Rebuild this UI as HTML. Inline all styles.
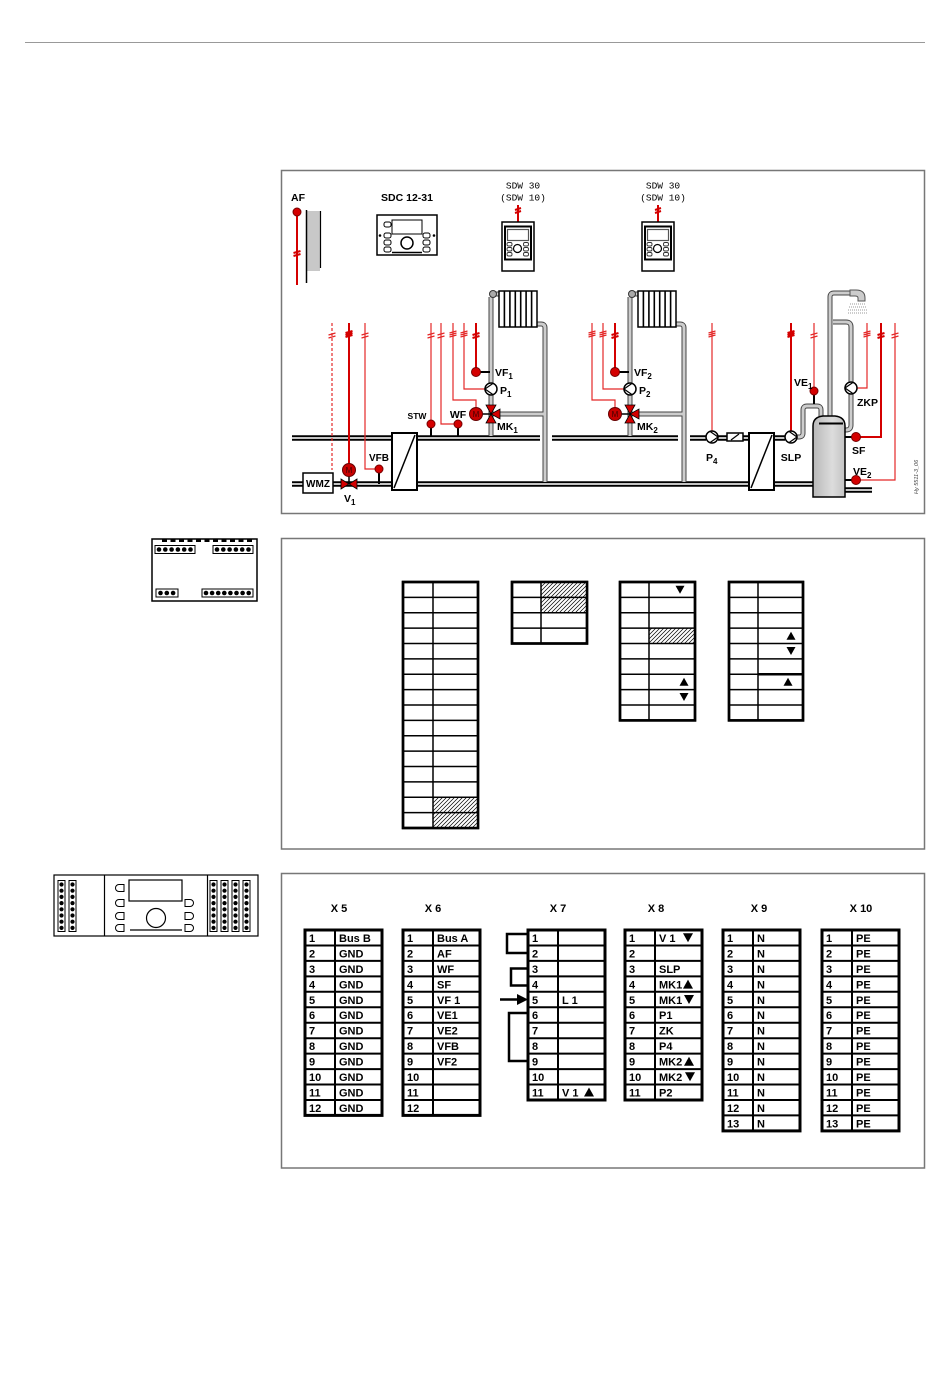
<!DOCTYPE html>
<html><head><meta charset="utf-8"><style>
html,body{margin:0;padding:0;background:#fff;}
svg{display:block}
text{font-family:"Liberation Sans",Arial,sans-serif;fill:#000;}
.b{font-weight:bold;}
.tb{font-weight:bold;font-size:11px;}
.lb{font-weight:bold;font-size:10.5px;}
.mono{font-family:"Liberation Mono","DejaVu Sans Mono",monospace;font-size:9.5px;}
.pb{stroke:#000;stroke-width:5.5;fill:none;}
.pg{stroke:#c4c4c4;stroke-width:2;fill:none;}
.qb{stroke:#444;stroke-width:5;fill:none;}
.qg{stroke:#cdcdcd;stroke-width:3;fill:none;}
.rt{stroke:#d40000;stroke-width:2;fill:none;}
.rn{stroke:#e42828;stroke-width:1.2;fill:none;}
.sen{fill:#d40000;stroke:#700;stroke-width:1;}
.k{stroke:#000;fill:none;}
</style></head><body>
<svg width="950" height="1397" viewBox="0 0 950 1397" xmlns="http://www.w3.org/2000/svg">
<defs>
<pattern id="h" width="4" height="4" patternUnits="userSpaceOnUse">
<rect width="4" height="4" fill="#fff"/>
<path d="M-1,1 L1,-1 M0,4 L4,0 M3,5 L5,3" stroke="#000" stroke-width="0.7"/>
</pattern>
<linearGradient id="tk" x1="0" x2="1" y1="0" y2="0"><stop offset="0" stop-color="#b8b8b8"/><stop offset="0.6" stop-color="#dcdcdc"/><stop offset="1" stop-color="#c4c4c4"/></linearGradient>
</defs>

<!-- top rule -->
<line x1="25" y1="42.5" x2="925" y2="42.5" stroke="#999" stroke-width="1"/>

<!-- panels -->
<rect x="281.5" y="170.5" width="643" height="343" fill="none" stroke="#777" stroke-width="1.5"/>
<rect x="281.5" y="538.5" width="643" height="310.5" fill="none" stroke="#777" stroke-width="1.5"/>
<rect x="281.5" y="873.5" width="643" height="294.5" fill="none" stroke="#777" stroke-width="1.5"/>

<!-- ================= PANEL 1 ================= -->
<!-- AF -->
<text x="291" y="201" class="lb">AF</text>
<rect x="307" y="211" width="13" height="60" fill="#c8c8c8"/>
<line x1="306.5" y1="210" x2="306.5" y2="283" stroke="#000" stroke-width="1.5"/>
<line x1="320.5" y1="211" x2="320.5" y2="268" stroke="#000" stroke-width="1.2"/>
<line x1="297" y1="212" x2="297" y2="285" class="rt"/>
<path d="M293.5,253 l7,-2 m-7,5 l7,-2" class="rt" stroke-width="1"/>
<circle cx="297" cy="212" r="4" class="sen"/>

<!-- SDC 12-31 -->
<text x="407" y="201" class="lb" text-anchor="middle">SDC 12-31</text>
<rect x="377" y="215" width="60" height="40" fill="#fff" stroke="#000" stroke-width="1.5"/>
<rect x="392" y="220" width="30" height="14" fill="#fff" stroke="#000" stroke-width="1"/>
<circle cx="407" cy="243" r="6" fill="#fff" stroke="#000" stroke-width="1.5"/>
<line x1="392" y1="252.5" x2="422" y2="252.5" stroke="#000" stroke-width="1.5"/>
<g fill="#fff" stroke="#000" stroke-width="1">
<rect x="384" y="222" width="7" height="5" rx="2"/>
<rect x="384" y="233" width="7" height="5" rx="2"/>
<rect x="384" y="240" width="7" height="5" rx="2"/>
<rect x="384" y="247" width="7" height="5" rx="2"/>
<rect x="423" y="233" width="7" height="5" rx="2"/>
<rect x="423" y="240" width="7" height="5" rx="2"/>
<rect x="423" y="247" width="7" height="5" rx="2"/>
</g>
<circle cx="380" cy="235.5" r="1.3" fill="#000"/>
<circle cx="434" cy="235.5" r="1.3" fill="#000"/>

<!-- SDW devices -->
<text x="523" y="188.5" class="mono" text-anchor="middle">SDW 30</text>
<text x="523" y="200.5" class="mono" text-anchor="middle">(SDW 10)</text>
<text x="663" y="188.5" class="mono" text-anchor="middle">SDW 30</text>
<text x="663" y="200.5" class="mono" text-anchor="middle">(SDW 10)</text>
<g id="sdw">
<line x1="518" y1="205" x2="518" y2="222" class="rt"/>
<path d="M515,210 l6,-2 m-6,5 l6,-2" class="rt" stroke-width="1"/>
<rect x="502" y="222" width="32" height="49" fill="#fff" stroke="#000" stroke-width="1.5"/>
<rect x="505" y="226.5" width="26" height="33" fill="#fff" stroke="#000" stroke-width="2"/>
<rect x="507.5" y="229.5" width="21" height="11" fill="#fff" stroke="#555" stroke-width="1.2"/>
<circle cx="517.5" cy="248.5" r="4" fill="#fff" stroke="#000" stroke-width="1.2"/>
<g fill="#fff" stroke="#333" stroke-width="0.9">
<rect x="507" y="242.5" width="5" height="3.5" rx="1.5"/>
<rect x="507" y="247.5" width="5" height="3.5" rx="1.5"/>
<rect x="507" y="252.5" width="5" height="3.5" rx="1.5"/>
<rect x="523.5" y="242.5" width="5" height="3.5" rx="1.5"/>
<rect x="523.5" y="247.5" width="5" height="3.5" rx="1.5"/>
<rect x="523.5" y="252.5" width="5" height="3.5" rx="1.5"/>
</g>
</g>
<use href="#sdw" x="140" y="0"/>

<!-- main pipes -->
<path d="M292,438 H392 M417,438 H540 M552,438 H678 M690,438 H706 M718,438 H749 M774,438 H785 M292,484 H392 M417,484 H749 M774,484 H813 M845,490 H872" class="pb"/>
<path d="M292,438 H392 M417,438 H540 M552,438 H678 M690,438 H706 M718,438 H749 M774,438 H785 M292,484 H392 M417,484 H749 M774,484 H813 M845,490 H872" class="pg"/>

<!-- heat exchangers -->
<rect x="392" y="433" width="25" height="57" fill="#fff" stroke="#000" stroke-width="2"/>
<line x1="394" y1="488" x2="415" y2="435" stroke="#000" stroke-width="1.5"/>
<rect x="749" y="433" width="25" height="57" fill="#fff" stroke="#000" stroke-width="2"/>
<line x1="751" y1="488" x2="772" y2="435" stroke="#000" stroke-width="1.5"/>

<!-- primary red lines -->
<line x1="332" y1="323" x2="332" y2="470" class="rn" stroke-width="1.6" stroke-dasharray="3,2"/>
<path d="M328.5,335 l7,-2 m-7,5 l7,-2" class="rn"/>
<line x1="349" y1="323" x2="349" y2="463" class="rt"/>
<path d="M345.5,333 l7,-2 m-7,4 l7,-2 m-7,4 l7,-2" class="rt" stroke-width="1"/>
<path d="M365,323 V469 H375" class="rn"/>
<path d="M361.5,335 l7,-2 m-7,5 l7,-2" class="rn"/>

<!-- WMZ -->
<rect x="303" y="473" width="30" height="20" fill="#fff" stroke="#000" stroke-width="1.5"/>
<text x="318" y="487" class="b" font-size="10" text-anchor="middle">WMZ</text>
<!-- V1 -->
<line x1="349" y1="476" x2="349" y2="484" stroke="#000" stroke-width="1.5"/>
<path d="M341,479 V489 L349,484 Z M357,479 V489 L349,484 Z" fill="#d40000" stroke="#000" stroke-width="0.8"/>
<circle cx="349" cy="470" r="6.5" fill="#c80000" stroke="#600"/>
<text x="349" y="473" font-size="8" text-anchor="middle" style="fill:#400">M</text>
<text x="344" y="502" class="lb">V<tspan font-size="8" dy="3">1</tspan></text>
<!-- VFB -->
<line x1="379" y1="472" x2="379" y2="484" stroke="#000" stroke-width="2"/>
<circle cx="379" cy="469" r="4" class="sen"/>
<text x="379" y="461" class="b" font-size="10" text-anchor="middle">VFB</text>

<!-- STW, WF -->
<line x1="431" y1="323" x2="431" y2="420" class="rn"/>
<path d="M427.5,335 l7,-2 m-7,5 l7,-2" class="rn"/>
<line x1="431" y1="427" x2="431" y2="437" stroke="#000" stroke-width="2"/>
<circle cx="431" cy="424" r="4" class="sen"/>
<text x="417" y="419" class="b" font-size="8.5" text-anchor="middle">STW</text>
<path d="M441,323 V424 H454" class="rn"/>
<path d="M437.5,335 l7,-2 m-7,5 l7,-2" class="rn"/>
<line x1="458" y1="427" x2="458" y2="437" stroke="#000" stroke-width="2"/>
<circle cx="458" cy="424" r="4" class="sen"/>
<text x="458" y="418" class="lb" text-anchor="middle">WF</text>

<!-- heating circuit 1 (reused for circuit 2) -->
<g id="c1">
<path d="M491,436 V297 M493,294 H499 M537,324 H541 Q545,324 545,328 V482 M500,414 H545" class="qb"/>
<path d="M491,436 V297 M493,294 H499 M537,324 H541 Q545,324 545,328 V482 M500,414 H545" class="qg"/>
<circle cx="493" cy="294" r="3.5" fill="#aaa" stroke="#333"/>
<rect x="499" y="291" width="38" height="36" fill="#fff" stroke="#000" stroke-width="1.5"/>
<path d="M504.4,291V327M509.9,291V327M515.3,291V327M520.7,291V327M526.1,291V327M531.6,291V327" stroke="#000" stroke-width="1.6"/>
<path d="M453,323 V400 H476 V407" class="rn" stroke-width="1.6"/>
<path d="M449.5,333 l7,-2 m-7,4 l7,-2 m-7,4 l7,-2" class="rn" stroke-width="1"/>
<path d="M464,323 V389 H485" class="rn"/>
<path d="M460.5,333 l7,-2 m-7,4 l7,-2 m-7,4 l7,-2" class="rn" stroke-width="1"/>
<line x1="476" y1="323" x2="476" y2="368" class="rt"/>
<path d="M472.5,335 l7,-2 m-7,5 l7,-2" class="rt" stroke-width="1"/>
<line x1="480" y1="372" x2="490" y2="372" stroke="#000" stroke-width="2"/>
<circle cx="476" cy="372" r="4.5" class="sen"/>
<circle cx="491" cy="389" r="6" fill="#fff" stroke="#000" stroke-width="1.5"/>
<path d="M493,383.4 L485,389 L493,394.6" fill="none" stroke="#000" stroke-width="1.2"/>
<path d="M486,405 H496 L491,414 Z M486,423 H496 L491,414 Z M500,409 V419 L491,414 Z" fill="#d40000" stroke="#000" stroke-width="0.8"/>
<line x1="482" y1="414" x2="491" y2="414" stroke="#000" stroke-width="1.5"/>
<circle cx="476" cy="414" r="6.5" fill="#c80000" stroke="#600"/>
</g>
<use href="#c1" x="139" y="0"/>
<text x="476" y="417" font-size="8" text-anchor="middle" style="fill:#400">M</text>
<text x="615" y="417" font-size="8" text-anchor="middle" style="fill:#400">M</text>
<text x="495" y="376" class="lb">VF<tspan font-size="8" dy="3">1</tspan></text>
<text x="500" y="394" class="lb">P<tspan font-size="8" dy="3">1</tspan></text>
<text x="497" y="430" class="lb">MK<tspan font-size="8" dy="3">1</tspan></text>
<text x="634" y="376" class="lb">VF<tspan font-size="8" dy="3">2</tspan></text>
<text x="639" y="394" class="lb">P<tspan font-size="8" dy="3">2</tspan></text>
<text x="637" y="430" class="lb">MK<tspan font-size="8" dy="3">2</tspan></text>

<!-- P4 -->
<line x1="712" y1="323" x2="712" y2="431" class="rn"/>
<path d="M708.5,333 l7,-2 m-7,4 l7,-2 m-7,4 l7,-2" class="rn" stroke-width="1"/>
<circle cx="712" cy="437" r="6" fill="#fff" stroke="#000" stroke-width="1.5"/>
<path d="M710,431.4 L718,437 L710,442.6" fill="none" stroke="#000" stroke-width="1.2"/>
<text x="706" y="461" class="lb">P<tspan font-size="8" dy="3">4</tspan></text>
<!-- check valve -->
<rect x="727" y="433" width="16" height="8" fill="#fff" stroke="#000" stroke-width="1.5"/>
<line x1="731" y1="440" x2="739" y2="434" stroke="#000" stroke-width="1.2"/>

<!-- DHW side pipes -->
<path d="M797,437 H799 Q803,437 803,433 V410 Q803,406 807,406 H817 Q821,406 821,410 V419 M830,418 V297 Q830,293 834,293 H852 M833,322 H846 Q851,322 851,327 V425 Q851,430 846,430 H845" class="qb"/>
<path d="M797,437 H799 Q803,437 803,433 V410 Q803,406 807,406 H817 Q821,406 821,410 V419 M830,418 V297 Q830,293 834,293 H852 M833,322 H846 Q851,322 851,327 V425 Q851,430 846,430 H845" class="qg"/>
<!-- shower head -->
<path d="M850,290 H856 Q865,290 865,298 V301 H858 V298 Q858,296 855,296 H850 Z" fill="#ccc" stroke="#555" stroke-width="1"/>
<g stroke="#999" stroke-width="1" stroke-dasharray="1,1">
<line x1="850" y1="304" x2="866" y2="304"/>
<line x1="849" y1="307" x2="867" y2="307"/>
<line x1="848" y1="310" x2="868" y2="310"/>
<line x1="848" y1="313" x2="868" y2="313"/>
</g>
<!-- tank -->
<path d="M813,497 V426 Q813,417 823,416 H835 Q845,417 845,426 V497 Z" fill="url(#tk)" stroke="#000" stroke-width="1.5"/>
<line x1="819" y1="423.5" x2="843" y2="423.5" stroke="#000" stroke-width="2"/>

<!-- SLP -->
<line x1="791" y1="323" x2="791" y2="431" class="rt"/>
<path d="M787.5,333 l7,-2 m-7,4 l7,-2 m-7,4 l7,-2" class="rt" stroke-width="1"/>
<circle cx="791" cy="437" r="6" fill="#fff" stroke="#000" stroke-width="1.5"/>
<path d="M789,431.4 L797,437 L789,442.6" fill="none" stroke="#000" stroke-width="1.2"/>
<text x="791" y="461" class="lb" text-anchor="middle">SLP</text>
<!-- VE1 -->
<line x1="814" y1="323" x2="814" y2="387" class="rn"/>
<path d="M810.5,335 l7,-2 m-7,5 l7,-2" class="rn"/>
<line x1="814" y1="394" x2="814" y2="404" stroke="#000" stroke-width="2"/>
<circle cx="814" cy="391" r="4" class="sen"/>
<text x="794" y="386" class="lb">VE<tspan font-size="8" dy="3">1</tspan></text>
<!-- ZKP -->
<path d="M867,323 V388 H857" class="rn"/>
<path d="M863.5,333 l7,-2 m-7,4 l7,-2 m-7,4 l7,-2" class="rn" stroke-width="1"/>
<circle cx="851" cy="388" r="6" fill="#fff" stroke="#000" stroke-width="1.5"/>
<path d="M853,382.4 L845,388 L853,393.6" fill="none" stroke="#000" stroke-width="1.2"/>
<text x="857" y="406" class="lb">ZKP</text>
<!-- SF -->
<path d="M881,323 V437 H860" class="rt"/>
<path d="M877.5,335 l7,-2 m-7,5 l7,-2" class="rt" stroke-width="1"/>
<line x1="845" y1="437" x2="853" y2="437" stroke="#000" stroke-width="2"/>
<circle cx="856" cy="437" r="4.5" class="sen"/>
<text x="852" y="454" class="lb">SF</text>
<!-- VE2 -->
<path d="M895,323 V480 H860" class="rn"/>
<path d="M891.5,335 l7,-2 m-7,5 l7,-2" class="rn"/>
<line x1="845" y1="480" x2="853" y2="480" stroke="#000" stroke-width="2"/>
<circle cx="856" cy="480" r="4.5" class="sen"/>
<text x="853" y="475" class="lb">VE<tspan font-size="8" dy="3">2</tspan></text>

<text transform="translate(918,494) rotate(-90)" font-size="5.5" font-style="italic" style="fill:#444">Hy 5511-3_06</text>

<!-- ================= PANEL 2 ================= -->
<!-- device -->
<rect x="152" y="539" width="105" height="62" fill="#fff" stroke="#000" stroke-width="1.5"/>
<g fill="#000">
<rect x="162" y="539" width="5" height="3"/><rect x="170.5" y="539" width="5" height="3"/><rect x="179" y="539" width="5" height="3"/><rect x="187.5" y="539" width="5" height="3"/><rect x="196" y="539" width="5" height="3"/><rect x="204.5" y="539" width="5" height="3"/><rect x="213" y="539" width="5" height="3"/><rect x="221.5" y="539" width="5" height="3"/><rect x="230" y="539" width="5" height="3"/><rect x="238.5" y="539" width="5" height="3"/><rect x="247" y="539" width="5" height="3"/>
</g>
<g fill="#fff" stroke="#000" stroke-width="1">
<rect x="155" y="545.5" width="40" height="8"/>
<rect x="213" y="545.5" width="40" height="8"/>
<rect x="156" y="589" width="22" height="8"/>
<rect x="202" y="589" width="51" height="8"/>
</g>
<g fill="#000">
<circle cx="159" cy="549.5" r="2.3"/><circle cx="165.3" cy="549.5" r="2.3"/><circle cx="171.6" cy="549.5" r="2.3"/><circle cx="177.9" cy="549.5" r="2.3"/><circle cx="184.2" cy="549.5" r="2.3"/><circle cx="190.5" cy="549.5" r="2.3"/>
<circle cx="217" cy="549.5" r="2.3"/><circle cx="223.3" cy="549.5" r="2.3"/><circle cx="229.6" cy="549.5" r="2.3"/><circle cx="235.9" cy="549.5" r="2.3"/><circle cx="242.2" cy="549.5" r="2.3"/><circle cx="248.5" cy="549.5" r="2.3"/>
<circle cx="160.5" cy="593" r="2.3"/><circle cx="166.8" cy="593" r="2.3"/><circle cx="173.1" cy="593" r="2.3"/>
<circle cx="206" cy="593" r="2.3"/><circle cx="212.1" cy="593" r="2.3"/><circle cx="218.2" cy="593" r="2.3"/><circle cx="224.3" cy="593" r="2.3"/><circle cx="230.4" cy="593" r="2.3"/><circle cx="236.5" cy="593" r="2.3"/><circle cx="242.6" cy="593" r="2.3"/><circle cx="248.7" cy="593" r="2.3"/>
</g>

<!-- Table A -->
<rect x="403" y="582" width="75" height="246" fill="#fff" stroke="#000" stroke-width="2.5"/>
<rect x="433" y="797.3" width="45" height="30.7" fill="url(#h)"/>
<path d="M403,597.4H478M403,612.8H478M403,628.1H478M403,643.5H478M403,658.9H478M403,674.3H478M403,689.6H478M403,705H478M403,720.4H478M403,735.8H478M403,751.1H478M403,766.5H478M403,781.9H478M403,797.3H478M403,812.6H478M433,582V828" stroke="#000" stroke-width="1.5"/>
<rect x="403" y="582" width="75" height="246" fill="none" stroke="#000" stroke-width="2.5"/>

<!-- Table B -->
<rect x="512" y="582" width="75" height="61.5" fill="#fff" stroke="#000" stroke-width="2.5"/>
<rect x="541" y="582" width="46" height="30.8" fill="url(#h)"/>
<path d="M512,597.4H587M512,612.8H587M512,628.1H587M541,582V643.5" stroke="#000" stroke-width="1.5"/>
<rect x="512" y="582" width="75" height="61.5" fill="none" stroke="#000" stroke-width="2.5"/>

<!-- Table C -->
<rect x="620" y="582" width="75" height="138.4" fill="#fff" stroke="#000" stroke-width="2.5"/>
<rect x="649" y="628.1" width="46" height="15.4" fill="url(#h)"/>
<path d="M620,597.4H695M620,612.8H695M620,628.1H695M620,643.5H695M620,658.9H695M620,674.3H695M620,689.6H695M620,705H695M649,582V720.4" stroke="#000" stroke-width="1.5"/>
<rect x="620" y="582" width="75" height="138.4" fill="none" stroke="#000" stroke-width="2.5"/>
<g fill="#000">
<path d="M675.5,585.7 H684.5 L680,593.7 Z"/>
<path d="M679.5,685.8 H688.5 L684,677.8 Z"/>
<path d="M679.5,693 H688.5 L684,701 Z"/>
</g>

<!-- Table D -->
<rect x="729" y="582" width="74" height="138.4" fill="#fff" stroke="#000" stroke-width="2.5"/>
<path d="M729,597.4H803M729,612.8H803M729,628.1H803M729,643.5H803M729,658.9H803M729,689.6H803M729,705H803M758,582V720.4" stroke="#000" stroke-width="1.5"/>
<path d="M758,674.3H803" stroke="#000" stroke-width="2.5"/>
<path d="M729,674.3H758" stroke="#000" stroke-width="1.5"/>
<rect x="729" y="582" width="74" height="138.4" fill="none" stroke="#000" stroke-width="2.5"/>
<g fill="#000">
<path d="M786.5,639.7 H795.5 L791,631.7 Z"/>
<path d="M786.5,647 H795.5 L791,655 Z"/>
<path d="M783.5,685.8 H792.5 L788,677.8 Z"/>
</g>

<!-- ================= PANEL 3 ================= -->
<!-- device -->
<rect x="54" y="875" width="204" height="61" fill="#fff" stroke="#000" stroke-width="1.2"/>
<line x1="104.5" y1="875" x2="104.5" y2="936" stroke="#000" stroke-width="1.2"/>
<line x1="207.5" y1="875" x2="207.5" y2="936" stroke="#000" stroke-width="1.2"/>
<rect x="129" y="880" width="53" height="21" fill="#fff" stroke="#000" stroke-width="1.2"/>
<circle cx="156" cy="918" r="9.5" fill="#fff" stroke="#000" stroke-width="1.2"/>
<line x1="130" y1="930" x2="182" y2="930" stroke="#000" stroke-width="1.2"/>
<g fill="#fff" stroke="#000" stroke-width="1">
<path d="M124,884.5 H119 A3.5,3.5 0 0 0 119,891.5 H124 Z"/>
<path d="M124,899.5 H119 A3.5,3.5 0 0 0 119,906.5 H124 Z"/>
<path d="M124,912.5 H119 A3.5,3.5 0 0 0 119,919.5 H124 Z"/>
<path d="M124,924.5 H119 A3.5,3.5 0 0 0 119,931.5 H124 Z"/>
<path d="M185,899.5 H190 A3.5,3.5 0 0 1 190,906.5 H185 Z"/>
<path d="M185,912.5 H190 A3.5,3.5 0 0 1 190,919.5 H185 Z"/>
<path d="M185,924.5 H190 A3.5,3.5 0 0 1 190,931.5 H185 Z"/>
</g>
<g id="tcol">
<rect x="58" y="880.5" width="7" height="51" fill="#fff" stroke="#000" stroke-width="1"/>
<g fill="#000">
<circle cx="61.5" cy="884.5" r="2.1"/><circle cx="61.5" cy="890.7" r="2.1"/><circle cx="61.5" cy="896.9" r="2.1"/><circle cx="61.5" cy="903.1" r="2.1"/><circle cx="61.5" cy="909.3" r="2.1"/><circle cx="61.5" cy="915.5" r="2.1"/><circle cx="61.5" cy="921.7" r="2.1"/><circle cx="61.5" cy="927.9" r="2.1"/>
</g>
</g>
<use href="#tcol" x="11" y="0"/>
<use href="#tcol" x="152" y="0"/>
<use href="#tcol" x="163" y="0"/>
<use href="#tcol" x="174" y="0"/>
<use href="#tcol" x="185" y="0"/>

<!-- titles -->
<text x="339" y="912" class="tb" text-anchor="middle">X 5</text>
<text x="433" y="912" class="tb" text-anchor="middle">X 6</text>
<text x="558" y="912" class="tb" text-anchor="middle">X 7</text>
<text x="656" y="912" class="tb" text-anchor="middle">X 8</text>
<text x="759" y="912" class="tb" text-anchor="middle">X 9</text>
<text x="861" y="912" class="tb" text-anchor="middle">X 10</text>

<!-- X5 -->
<rect x="305" y="930" width="77" height="185.4" fill="#fff"/>
<path d="M305,945.5H382M305,960.9H382M305,976.4H382M305,991.8H382M305,1007.3H382M305,1022.7H382M305,1038.2H382M305,1053.6H382M305,1069.1H382M305,1084.5H382M305,1100H382M335,930V1115.4" stroke="#000" stroke-width="2"/>
<rect x="305" y="930" width="77" height="185.4" fill="none" stroke="#000" stroke-width="3"/>
<text x="309" y="942" class="tb">1</text><text x="339" y="942" class="tb">Bus B</text>
<text x="309" y="957.4" class="tb">2</text><text x="339" y="957.4" class="tb">GND</text>
<text x="309" y="972.9" class="tb">3</text><text x="339" y="972.9" class="tb">GND</text>
<text x="309" y="988.3" class="tb">4</text><text x="339" y="988.3" class="tb">GND</text>
<text x="309" y="1003.8" class="tb">5</text><text x="339" y="1003.8" class="tb">GND</text>
<text x="309" y="1019.2" class="tb">6</text><text x="339" y="1019.2" class="tb">GND</text>
<text x="309" y="1034.7" class="tb">7</text><text x="339" y="1034.7" class="tb">GND</text>
<text x="309" y="1050.1" class="tb">8</text><text x="339" y="1050.1" class="tb">GND</text>
<text x="309" y="1065.6" class="tb">9</text><text x="339" y="1065.6" class="tb">GND</text>
<text x="309" y="1081" class="tb">10</text><text x="339" y="1081" class="tb">GND</text>
<text x="309" y="1096.5" class="tb">11</text><text x="339" y="1096.5" class="tb">GND</text>
<text x="309" y="1111.9" class="tb">12</text><text x="339" y="1111.9" class="tb">GND</text>

<!-- X6 -->
<rect x="403" y="930" width="77" height="185.4" fill="#fff"/>
<path d="M403,945.5H480M403,960.9H480M403,976.4H480M403,991.8H480M403,1007.3H480M403,1022.7H480M403,1038.2H480M403,1053.6H480M403,1069.1H480M403,1084.5H480M403,1100H480M433,930V1115.4" stroke="#000" stroke-width="2"/>
<rect x="403" y="930" width="77" height="185.4" fill="none" stroke="#000" stroke-width="3"/>
<text x="407" y="942" class="tb">1</text><text x="437" y="942" class="tb">Bus A</text>
<text x="407" y="957.4" class="tb">2</text><text x="437" y="957.4" class="tb">AF</text>
<text x="407" y="972.9" class="tb">3</text><text x="437" y="972.9" class="tb">WF</text>
<text x="407" y="988.3" class="tb">4</text><text x="437" y="988.3" class="tb">SF</text>
<text x="407" y="1003.8" class="tb">5</text><text x="437" y="1003.8" class="tb">VF 1</text>
<text x="407" y="1019.2" class="tb">6</text><text x="437" y="1019.2" class="tb">VE1</text>
<text x="407" y="1034.7" class="tb">7</text><text x="437" y="1034.7" class="tb">VE2</text>
<text x="407" y="1050.1" class="tb">8</text><text x="437" y="1050.1" class="tb">VFB</text>
<text x="407" y="1065.6" class="tb">9</text><text x="437" y="1065.6" class="tb">VF2</text>
<text x="407" y="1081" class="tb">10</text>
<text x="407" y="1096.5" class="tb">11</text>
<text x="407" y="1111.9" class="tb">12</text>

<!-- X7 -->
<rect x="528" y="930" width="77" height="170" fill="#fff"/>
<path d="M528,945.5H605M528,960.9H605M528,976.4H605M528,991.8H605M528,1007.3H605M528,1022.7H605M528,1038.2H605M528,1053.6H605M528,1069.1H605M528,1084.5H605M558,930V1100" stroke="#000" stroke-width="2"/>
<rect x="528" y="930" width="77" height="170" fill="none" stroke="#000" stroke-width="3"/>
<path d="M528,934 H507 V953 H528 M528,968.5 H511 V985.5 H528 M528,1013 H509 V1061 H528" fill="none" stroke="#000" stroke-width="2.5"/>
<line x1="500" y1="999.5" x2="519" y2="999.5" stroke="#000" stroke-width="2.5"/>
<path d="M517,994 L528,999.5 L517,1005 Z" fill="#000"/>
<text x="532" y="942" class="tb">1</text>
<text x="532" y="957.4" class="tb">2</text>
<text x="532" y="972.9" class="tb">3</text>
<text x="532" y="988.3" class="tb">4</text>
<text x="532" y="1003.8" class="tb">5</text><text x="562" y="1003.8" class="tb">L 1</text>
<text x="532" y="1019.2" class="tb">6</text>
<text x="532" y="1034.7" class="tb">7</text>
<text x="532" y="1050.1" class="tb">8</text>
<text x="532" y="1065.6" class="tb">9</text>
<text x="532" y="1081" class="tb">10</text>
<text x="532" y="1096.5" class="tb">11</text><text x="562" y="1096.5" class="tb">V 1</text>
<path d="M584,1096.5 H594 L589,1087.5 Z" fill="#000"/>

<!-- X8 -->
<rect x="625" y="930" width="77" height="170" fill="#fff"/>
<path d="M625,945.5H702M625,960.9H702M625,976.4H702M625,991.8H702M625,1007.3H702M625,1022.7H702M625,1038.2H702M625,1053.6H702M625,1069.1H702M625,1084.5H702M655,930V1100" stroke="#000" stroke-width="2"/>
<rect x="625" y="930" width="77" height="170" fill="none" stroke="#000" stroke-width="3"/>
<text x="629" y="942" class="tb">1</text><text x="659" y="942" class="tb">V 1</text>
<text x="629" y="957.4" class="tb">2</text>
<text x="629" y="972.9" class="tb">3</text><text x="659" y="972.9" class="tb">SLP</text>
<text x="629" y="988.3" class="tb">4</text><text x="659" y="988.3" class="tb">MK1</text>
<text x="629" y="1003.8" class="tb">5</text><text x="659" y="1003.8" class="tb">MK1</text>
<text x="629" y="1019.2" class="tb">6</text><text x="659" y="1019.2" class="tb">P1</text>
<text x="629" y="1034.7" class="tb">7</text><text x="659" y="1034.7" class="tb">ZK</text>
<text x="629" y="1050.1" class="tb">8</text><text x="659" y="1050.1" class="tb">P4</text>
<text x="629" y="1065.6" class="tb">9</text><text x="659" y="1065.6" class="tb">MK2</text>
<text x="629" y="1081" class="tb">10</text><text x="659" y="1081" class="tb">MK2</text>
<text x="629" y="1096.5" class="tb">11</text><text x="659" y="1096.5" class="tb">P2</text>
<g fill="#000">
<path d="M683,933.2 H693 L688,942.2 Z"/>
<path d="M683,988.6 H693 L688,979.6 Z"/>
<path d="M684,995 H694 L689,1004 Z"/>
<path d="M684,1065.8 H694 L689,1056.8 Z"/>
<path d="M685,1072.3 H695 L690,1081.3 Z"/>
</g>

<!-- X9 -->
<rect x="723" y="930" width="77" height="200.9" fill="#fff"/>
<path d="M723,945.5H800M723,960.9H800M723,976.4H800M723,991.8H800M723,1007.3H800M723,1022.7H800M723,1038.2H800M723,1053.6H800M723,1069.1H800M723,1084.5H800M723,1100H800M723,1115.4H800M753,930V1130.9" stroke="#000" stroke-width="2"/>
<rect x="723" y="930" width="77" height="200.9" fill="none" stroke="#000" stroke-width="3"/>
<text x="727" y="942" class="tb">1</text><text x="757" y="942" class="tb">N</text>
<text x="727" y="957.4" class="tb">2</text><text x="757" y="957.4" class="tb">N</text>
<text x="727" y="972.9" class="tb">3</text><text x="757" y="972.9" class="tb">N</text>
<text x="727" y="988.3" class="tb">4</text><text x="757" y="988.3" class="tb">N</text>
<text x="727" y="1003.8" class="tb">5</text><text x="757" y="1003.8" class="tb">N</text>
<text x="727" y="1019.2" class="tb">6</text><text x="757" y="1019.2" class="tb">N</text>
<text x="727" y="1034.7" class="tb">7</text><text x="757" y="1034.7" class="tb">N</text>
<text x="727" y="1050.1" class="tb">8</text><text x="757" y="1050.1" class="tb">N</text>
<text x="727" y="1065.6" class="tb">9</text><text x="757" y="1065.6" class="tb">N</text>
<text x="727" y="1081" class="tb">10</text><text x="757" y="1081" class="tb">N</text>
<text x="727" y="1096.5" class="tb">11</text><text x="757" y="1096.5" class="tb">N</text>
<text x="727" y="1111.9" class="tb">12</text><text x="757" y="1111.9" class="tb">N</text>
<text x="727" y="1127.4" class="tb">13</text><text x="757" y="1127.4" class="tb">N</text>

<!-- X10 -->
<rect x="822" y="930" width="77" height="200.9" fill="#fff"/>
<path d="M822,945.5H899M822,960.9H899M822,976.4H899M822,991.8H899M822,1007.3H899M822,1022.7H899M822,1038.2H899M822,1053.6H899M822,1069.1H899M822,1084.5H899M822,1100H899M822,1115.4H899M852,930V1130.9" stroke="#000" stroke-width="2"/>
<rect x="822" y="930" width="77" height="200.9" fill="none" stroke="#000" stroke-width="3"/>
<text x="826" y="942" class="tb">1</text><text x="856" y="942" class="tb">PE</text>
<text x="826" y="957.4" class="tb">2</text><text x="856" y="957.4" class="tb">PE</text>
<text x="826" y="972.9" class="tb">3</text><text x="856" y="972.9" class="tb">PE</text>
<text x="826" y="988.3" class="tb">4</text><text x="856" y="988.3" class="tb">PE</text>
<text x="826" y="1003.8" class="tb">5</text><text x="856" y="1003.8" class="tb">PE</text>
<text x="826" y="1019.2" class="tb">6</text><text x="856" y="1019.2" class="tb">PE</text>
<text x="826" y="1034.7" class="tb">7</text><text x="856" y="1034.7" class="tb">PE</text>
<text x="826" y="1050.1" class="tb">8</text><text x="856" y="1050.1" class="tb">PE</text>
<text x="826" y="1065.6" class="tb">9</text><text x="856" y="1065.6" class="tb">PE</text>
<text x="826" y="1081" class="tb">10</text><text x="856" y="1081" class="tb">PE</text>
<text x="826" y="1096.5" class="tb">11</text><text x="856" y="1096.5" class="tb">PE</text>
<text x="826" y="1111.9" class="tb">12</text><text x="856" y="1111.9" class="tb">PE</text>
<text x="826" y="1127.4" class="tb">13</text><text x="856" y="1127.4" class="tb">PE</text>

</svg>
</body></html>
